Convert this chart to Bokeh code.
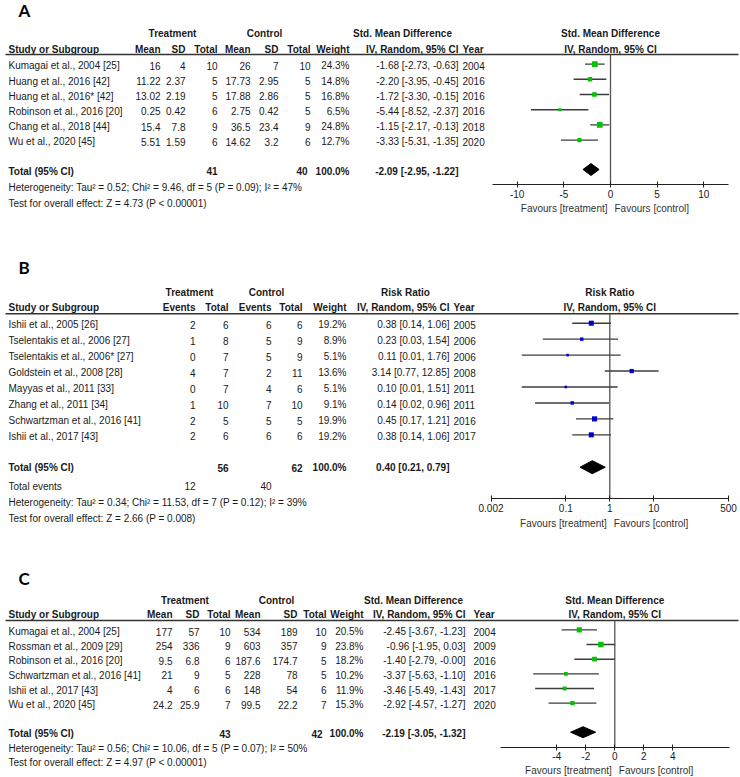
from bokeh.plotting import figure
from bokeh.models import (Range1d, FixedTicker, CustomJSTickFormatter, LinearAxis, LogAxis,
                          LinearScale)
from bokeh.layouts import column
from bokeh.core.properties import value
from bokeh.embed import file_html
from bokeh.resources import INLINE

FONT = "Liberation Sans"
LETTER_FONT = "Lato"
TXT = "#1a1a1a"
RULE = "#333333"
CI_COL = "#3c3c3c"
GREEN = "#00c400"
BLUE = "#0000cc"
W = 740
BOLD_SIZE = "10px"

# ---------------- Panel A data ----------------
studies_a = ["Kumagai et al., 2004 [25]", "Huang et al., 2016 [42]", "Huang et al., 2016* [42]",
             "Robinson et al., 2016 [20]", "Chang et al., 2018 [44]", "Wu et al., 2020 [45]"]
t_mean_a = [16, 11.22, 13.02, 0.25, 15.4, 5.51]
t_sd_a = [4, 2.37, 2.19, 0.42, 7.8, 1.59]
t_n_a = [10, 5, 5, 6, 9, 6]
c_mean_a = [26, 17.73, 17.88, 2.75, 36.5, 14.62]
c_sd_a = [7, 2.95, 2.86, 0.42, 23.4, 3.2]
c_n_a = [10, 5, 5, 5, 9, 6]
weight_a = [24.3, 14.8, 16.8, 6.5, 24.8, 12.7]
est_a = [-1.68, -2.20, -1.72, -5.44, -1.15, -3.33]
lo_a = [-2.73, -3.95, -3.30, -8.52, -2.17, -5.31]
hi_a = [-0.63, -0.45, -0.15, -2.37, -0.13, -1.35]
year_a = [2004, 2016, 2016, 2016, 2018, 2020]
total_a = {"t_n": 41, "c_n": 40, "est": -2.09, "lo": -2.95, "hi": -1.22}
het_a = "Heterogeneity: Tau\u00b2 = 0.52; Chi\u00b2 = 9.46, df = 5 (P = 0.09); I\u00b2 = 47%"
test_a = "Test for overall effect: Z = 4.73 (P < 0.00001)"
ticks_a = [-10, -5, 0, 5, 10]

# ---------------- Panel B data ----------------
studies_b = ["Ishii et al., 2005 [26]", "Tselentakis et al., 2006 [27]", "Tselentakis et al., 2006* [27]",
             "Goldstein et al., 2008 [28]", "Mayyas et al., 2011 [33]", "Zhang et al., 2011 [34]",
             "Schwartzman et al., 2016 [41]", "Ishii et al., 2017 [43]"]
t_ev_b = [2, 1, 0, 4, 0, 1, 2, 2]
t_n_b = [6, 8, 7, 7, 7, 10, 5, 6]
c_ev_b = [6, 5, 5, 2, 4, 7, 5, 6]
c_n_b = [6, 9, 9, 11, 6, 10, 5, 6]
weight_b = [19.2, 8.9, 5.1, 13.6, 5.1, 9.1, 19.9, 19.2]
est_b = [0.38, 0.23, 0.11, 3.14, 0.10, 0.14, 0.45, 0.38]
lo_b = [0.14, 0.03, 0.01, 0.77, 0.01, 0.02, 0.17, 0.14]
hi_b = [1.06, 1.54, 1.76, 12.85, 1.51, 0.96, 1.21, 1.06]
year_b = [2005, 2006, 2006, 2008, 2011, 2011, 2016, 2017]
total_b = {"t_n": 56, "c_n": 62, "t_ev": 12, "c_ev": 40, "est": 0.40, "lo": 0.21, "hi": 0.79}
het_b = "Heterogeneity: Tau\u00b2 = 0.34; Chi\u00b2 = 11.53, df = 7 (P = 0.12); I\u00b2 = 39%"
test_b = "Test for overall effect: Z = 2.66 (P = 0.008)"
ticks_b = [0.002, 0.1, 1, 10, 500]

# ---------------- Panel C data ----------------
studies_c = ["Kumagai et al., 2004 [25]", "Rossman et al., 2009 [29]", "Robinson et al., 2016 [20]",
             "Schwartzman et al., 2016 [41]", "Ishii et al., 2017 [43]", "Wu et al., 2020 [45]"]
t_mean_c = [177, 254, 9.5, 21, 4, 24.2]
t_sd_c = [57, 336, 6.8, 9, 6, 25.9]
t_n_c = [10, 9, 6, 5, 6, 7]
c_mean_c = [534, 603, 187.6, 228, 148, 99.5]
c_sd_c = [189, 357, 174.7, 78, 54, 22.2]
c_n_c = [10, 9, 5, 5, 6, 7]
weight_c = [20.5, 23.8, 18.2, 10.2, 11.9, 15.3]
est_c = [-2.45, -0.96, -1.40, -3.37, -3.46, -2.92]
lo_c = [-3.67, -1.95, -2.79, -5.63, -5.49, -4.57]
hi_c = [-1.23, 0.03, -0.0, -1.10, -1.43, -1.27]
year_c = [2004, 2009, 2016, 2016, 2017, 2020]
total_c = {"t_n": 43, "c_n": 42, "est": -2.19, "lo": -3.05, "hi": -1.32}
het_c = "Heterogeneity: Tau\u00b2 = 0.56; Chi\u00b2 = 10.06, df = 5 (P = 0.07); I\u00b2 = 50%"
test_c = "Test for overall effect: Z = 4.97 (P < 0.00001)"
ticks_c = [-4, -2, 0, 2, 4]


def fmt(v):
    return f"{v:g}"


def ci_text(e, l, h):
    return f"{e:.2f} [{l:.2f}, {h:.2f}]"


def panel_figure(H, null_px, ppu, log, null_val):
    if log:
        xr = Range1d(10 ** (-null_px / ppu), 10 ** ((W - null_px) / ppu))
    else:
        xr = Range1d(null_val - null_px / ppu, null_val + (W - null_px) / ppu)
    p = figure(width=W, height=H, x_range=xr, y_range=Range1d(H, 0),
               x_axis_type="log" if log else "linear",
               x_axis_location=None, y_axis_location=None,
               output_backend="svg", toolbar_location=None, min_border=0)
    p.extra_x_ranges = {"px": Range1d(0, W)}
    p.extra_x_scales = {"px": LinearScale()}
    p.grid.visible = False
    p.outline_line_color = None
    return p


def put(p, x, ys, texts, align="left", bold=False, size=None, font=FONT, color=TXT,
        rng="px", x_offset=0):
    ys = list(ys)
    texts = [str(t) for t in texts]
    xs = list(x) if isinstance(x, (list, tuple)) else [x] * len(texts)
    if size is None:
        size = BOLD_SIZE if bold else "10px"
    kw = {"x_range_name": rng} if rng else {}
    p.text(x=xs, y=ys, text=texts, text_align=align, text_baseline="middle",
           text_font=value(font), text_font_size=size, x_offset=x_offset,
           text_font_style="bold" if bold else "normal", text_color=color, **kw)


def forest_part(p, log, null_val, ticks, bounds, titles, y_h1, y_h2, y_rule, axis_y, fav_y):
    AxisCls = LogAxis if log else LinearAxis
    ax = AxisCls(fixed_location=axis_y, bounds=bounds, ticker=FixedTicker(ticks=ticks),
                 formatter=CustomJSTickFormatter(code="return tick.toString()"))
    ax.axis_line_color = "#222222"
    ax.axis_line_width = 1.2
    ax.major_tick_line_color = "#222222"
    ax.major_tick_in = 3
    ax.major_tick_out = 3
    ax.minor_tick_line_color = None
    ax.major_label_standoff = 2
    ax.major_label_text_font = FONT
    ax.major_label_text_font_size = "10px"
    ax.major_label_text_color = TXT
    p.add_layout(ax, "below")
    p.segment(x0=[5], x1=[738], y0=[y_rule], y1=[y_rule], line_color=RULE, line_width=1.5,
              x_range_name="px")
    p.segment(x0=[null_val], x1=[null_val], y0=[y_rule], y1=[axis_y],
              line_color="#555555", line_width=1.3)
    put(p, [null_val, null_val], [y_h1, y_h2], titles, align="center", bold=True, rng=None)
    put(p, [null_val], [fav_y], ["Favours [treatment]"], align="right", rng=None, x_offset=-3,
        color="#333333")
    put(p, [null_val], [fav_y], ["Favours [control]"], align="left", rng=None, x_offset=4,
        color="#333333")


def draw_studies(p, est, lo, hi, weight, ys, color, k):
    p.segment(x0=lo, x1=hi, y0=ys, y1=ys, line_color=CI_COL, line_width=1.4)
    sizes = [max(2.6, k * w ** 0.5) for w in weight]
    p.scatter(x=est, y=ys, size=sizes, marker="square", fill_color=color, line_color=None)


def draw_diamond(p, est, lo, hi, y, h):
    p.patch(x=[lo, est, hi, est], y=[y, y - h, y, y + h], fill_color="black",
            line_color="black", line_width=1)


# ================= Panel A =================
HA = 248
row0, step = 65.3, 15.2
ys_a = [row0 + i * step for i in range(len(studies_a))]
pa = panel_figure(HA, 610, 9.33, False, 0)
put(pa, 18, [10], ["A"], bold=True, size="17px", font=LETTER_FONT, color="#000000")
put(pa, [172, 264, 402], [33] * 3, ["Treatment", "Control", "Std. Mean Difference"], align="center", bold=True)
put(pa, 8, [49], ["Study or Subgroup"], bold=True)
put(pa, [160, 185, 217, 250, 278, 310, 349, 458], [49] * 8,
    ["Mean", "SD", "Total", "Mean", "SD", "Total", "Weight", "IV, Random, 95% CI"], align="right", bold=True)
put(pa, 462, [49], ["Year"], bold=True)
put(pa, 8, ys_a, studies_a)
for xr_, vals in zip([160, 185, 217, 250, 278, 310],
                     [t_mean_a, t_sd_a, t_n_a, c_mean_a, c_sd_a, c_n_a]):
    put(pa, xr_, ys_a, [fmt(v) for v in vals], align="right")
put(pa, 349, ys_a, [f"{w:.1f}%" for w in weight_a], align="right")
put(pa, 458, ys_a, [ci_text(e, l, h) for e, l, h in zip(est_a, lo_a, hi_a)], align="right")
put(pa, 462, ys_a, year_a)
put(pa, 8, [170.7], ["Total (95% CI)"], bold=True)
put(pa, [217, 307, 349, 458], [170.7] * 4,
    [total_a["t_n"], total_a["c_n"], "100.0%", ci_text(total_a["est"], total_a["lo"], total_a["hi"])],
    align="right", bold=True)
put(pa, 8, [186.6, 202.6], [het_a, test_a])
forest_part(pa, False, 0, ticks_a, (-12.7, 12.7), ["Std. Mean Difference", "IV, Random, 95% CI"],
            33, 49, 54, 184.3, 207.8)
draw_studies(pa, est_a, lo_a, hi_a, weight_a, [y - 1.7 for y in ys_a], GREEN, 1.15)
draw_diamond(pa, total_a["est"], total_a["lo"], total_a["hi"], 169, 6)

# ================= Panel B =================
HB = 304
row0, step = 76.3, 15.95
ys_b = [row0 + i * step for i in range(len(studies_b))]
pb = panel_figure(HB, 609.3, 44, True, 1)
put(pb, 18, [19], ["B"], bold=True, size="17px", font=LETTER_FONT, color="#000000")
put(pb, [189, 266, 405], [43.7] * 3, ["Treatment", "Control", "Risk Ratio"], align="center", bold=True)
put(pb, 8, [59.3], ["Study or Subgroup"], bold=True)
put(pb, [195, 228, 271, 302, 346, 449], [59.3] * 6,
    ["Events", "Total", "Events", "Total", "Weight", "IV, Random, 95% CI"], align="right", bold=True)
put(pb, 453, [59.3], ["Year"], bold=True)
put(pb, 8, ys_b, studies_b)
for xr_, vals in zip([195, 228, 271, 302], [t_ev_b, t_n_b, c_ev_b, c_n_b]):
    put(pb, xr_, ys_b, vals, align="right")
put(pb, 346, ys_b, [f"{w:.1f}%" for w in weight_b], align="right")
put(pb, 449, ys_b, [ci_text(e, l, h) for e, l, h in zip(est_b, lo_b, hi_b)], align="right")
put(pb, 453, ys_b, year_b)
put(pb, 8, [219.3], ["Total (95% CI)"], bold=True)
put(pb, [228, 302, 346, 449], [219.3] * 4,
    [total_b["t_n"], total_b["c_n"], "100.0%", ci_text(total_b["est"], total_b["lo"], total_b["hi"])],
    align="right", bold=True)
put(pb, 8, [237.7], ["Total events"])
put(pb, [195, 271], [237.7] * 2, [total_b["t_ev"], total_b["c_ev"]], align="right")
put(pb, 8, [253.7, 269.7], [het_b, test_b])
forest_part(pb, True, 1, ticks_b, (0.002, 500), ["Risk Ratio", "IV, Random, 95% CI"],
            43.7, 59.3, 65.3, 250.3, 275.3)
draw_studies(pb, est_b, lo_b, hi_b, weight_b, [y - 1.6 for y in ys_b], BLUE, 1.15)
draw_diamond(pb, total_b["est"], total_b["lo"], total_b["hi"], 218.7, 6.5)

# ================= Panel C =================
HC = 225
row0, step = 79, 14.65
ys_c = [row0 + i * step for i in range(len(studies_c))]
pc = panel_figure(HC, 614.3, 14.5, False, 0)
put(pc, 18, [26.3], ["C"], bold=True, size="17px", font=LETTER_FONT, color="#000000")
put(pc, [184.5, 276, 413], [48] * 3, ["Treatment", "Control", "Std. Mean Difference"], align="center", bold=True)
put(pc, 8, [62], ["Study or Subgroup"], bold=True)
put(pc, [172, 199, 230, 260, 297, 326, 363, 465], [62] * 8,
    ["Mean", "SD", "Total", "Mean", "SD", "Total", "Weight", "IV, Random, 95% CI"], align="right", bold=True)
put(pc, 473, [62], ["Year"], bold=True)
put(pc, 8, ys_c, studies_c)
for xr_, vals in zip([172, 199, 230, 260, 297, 326],
                     [t_mean_c, t_sd_c, t_n_c, c_mean_c, c_sd_c, c_n_c]):
    put(pc, xr_, ys_c, [fmt(v) for v in vals], align="right")
put(pc, 363, ys_c, [f"{w:.1f}%" for w in weight_c], align="right")
put(pc, 465, ys_c, [ci_text(e, l, h) for e, l, h in zip(est_c, lo_c, hi_c)], align="right")
put(pc, 473, ys_c, year_c)
put(pc, 8, [181.3], ["Total (95% CI)"], bold=True)
put(pc, [230, 322, 363, 465], [181.3] * 4,
    [total_c["t_n"], total_c["c_n"], "100.0%", ci_text(total_c["est"], total_c["lo"], total_c["hi"])],
    align="right", bold=True)
put(pc, 8, [196.3, 210.3], [het_c, test_c])
forest_part(pc, False, 0, ticks_c, (-7.85, 7.9), ["Std. Mean Difference", "IV, Random, 95% CI"],
            48, 62, 68, 194.7, 218)
draw_studies(pc, est_c, lo_c, hi_c, weight_c, [y - 1.6 for y in ys_c], GREEN, 1.12)
draw_diamond(pc, total_c["est"], total_c["lo"], total_c["hi"], 179.7, 5.5)

layout = column(pa, pb, pc)
open("out.html", "w").write(file_html(layout, INLINE))
